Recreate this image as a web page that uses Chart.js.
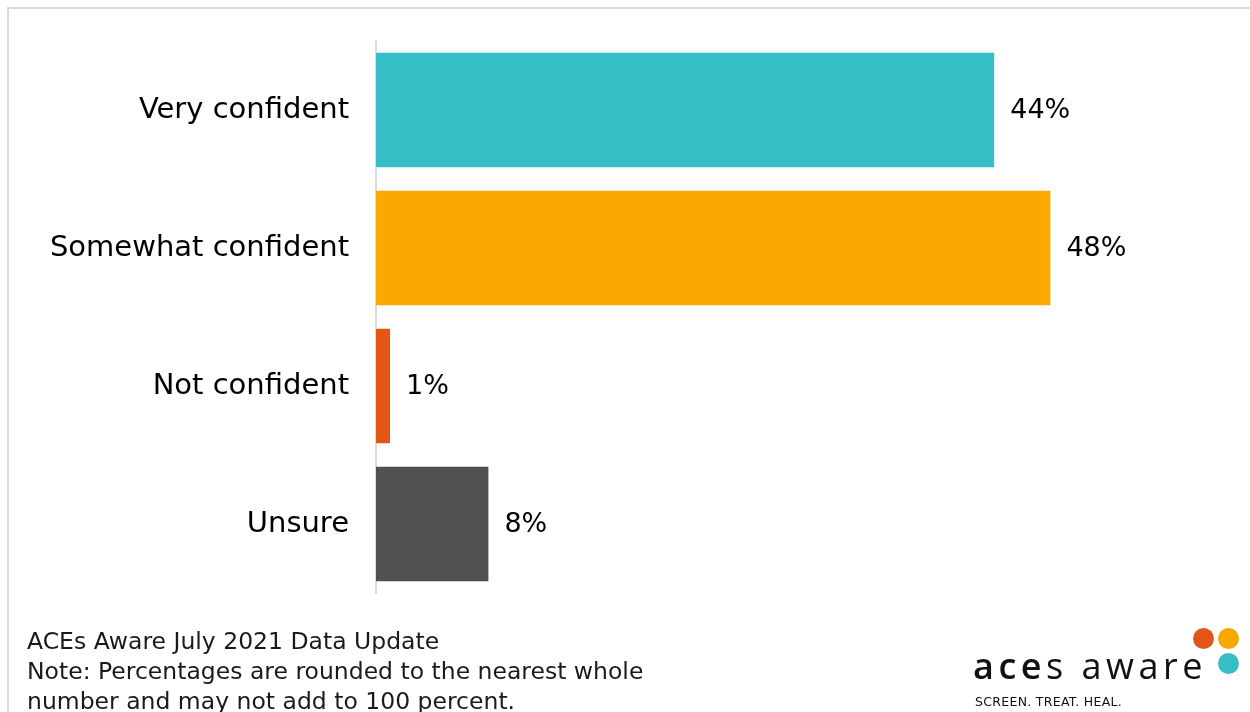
<!DOCTYPE html>
<html>
<head>
<meta charset="utf-8">
<script src="https://cdn.jsdelivr.net/npm/chart.js@4/dist/chart.umd.min.js"></script>
<style>
  html, body { margin: 0; padding: 0; background: #fff; }
  body { width: 1250px; height: 712px; position: relative; overflow: hidden; font-family: "DejaVu Sans", sans-serif; }
  #frame { position: absolute; left: 7px; top: 7px; width: 1260px; height: 720px; border-top: 2px solid #dadada; border-left: 2px solid #dadada; }
  #wrap { position: absolute; left: 0; top: 0; width: 1250px; height: 712px; }
  #note { position: absolute; left: 27px; top: 626px; font-size: 23.5px; line-height: 30px; color: #1a1a1a; white-space: nowrap; }
  #logo { position: absolute; left: 972px; top: 628px; width: 270px; height: 84px; }
  #logo .word { position: absolute; left: 1px; top: 13px; font-family: "Open Sans", sans-serif; font-size: 36px; letter-spacing: 4.5px; color: #111; white-space: nowrap; }
  #logo .word b { font-weight: 600; }
  #logo .tag { position: absolute; left: 3px; top: 66px; font-size: 12.5px; letter-spacing: 0.3px; color: #111; white-space: nowrap; }
  #logo .dot { position: absolute; width: 21px; height: 21px; border-radius: 50%; }
</style>
</head>
<body>
<div id="frame"></div>
<div id="wrap"><canvas id="bars"></canvas></div>
<div id="note">ACEs Aware July 2021 Data Update<br>Note: Percentages are rounded to the nearest whole<br>number and may not add to 100 percent.</div>
<div id="logo">
  <div class="word"><b>ace</b>s aware</div>
  <div class="tag">SCREEN. TREAT. HEAL.</div>
  <div class="dot" style="left:221px;top:0px;background:#e2561a"></div>
  <div class="dot" style="left:246px;top:0px;background:#f7a800"></div>
  <div class="dot" style="left:246px;top:25px;background:#36bec7"></div>
</div>
<script>
const categories = ['Very confident', 'Somewhat confident', 'Not confident', 'Unsure']
const percents = [44, 48, 1, 8]
const barColors = ['#35bec6', '#fba800', '#e35614', '#505050']

// value labels to the right of each bar
const valueLabels = {
    id: 'valueLabels',
    afterDatasetsDraw(chart){
        const ctx = chart.ctx
        const meta = chart.getDatasetMeta(0)
        ctx.save()
        ctx.font = '27px "DejaVu Sans"'
        ctx.fillStyle = '#000'
        ctx.textBaseline = 'middle'
        meta.data.forEach((bar, i)=>{
            ctx.fillText(percents[i] + '%', bar.x + 16, bar.y + 1)
        })
        ctx.restore()
    }
}

const barsCanvas = document.querySelector('#bars')
const myChart = new Chart(barsCanvas, {
    type: 'bar',
    data: {
        labels: categories,
        datasets: [{
            data: percents,
            backgroundColor: barColors,
            barPercentage: 0.83,
            categoryPercentage: 1
        }]
    },
    options: {
        indexAxis: 'y',
        responsive: true,
        maintainAspectRatio: false,
        animation: false,
        layout: { padding: { left: 0, top: 41, bottom: 119, right: 31 } },
        plugins: { legend: { display: false }, tooltip: { enabled: false } },
        scales: {
            x: { display: false, min: 0, max: 60 },
            y: {
                z: 1,
                afterFit(scale){
                    // fixed label column, no extra room above/below for the tick text
                    scale.width = 376
                    scale.paddingTop = 0
                    scale.paddingBottom = 0
                },
                grid: { display: false, drawTicks: false },
                border: { color: '#d9d9d9', width: 2 },
                ticks: { color: '#000', padding: 27, font: { family: 'DejaVu Sans', size: 29 } }
            }
        }
    },
    plugins: [valueLabels]
})
</script>
</body>
</html>
